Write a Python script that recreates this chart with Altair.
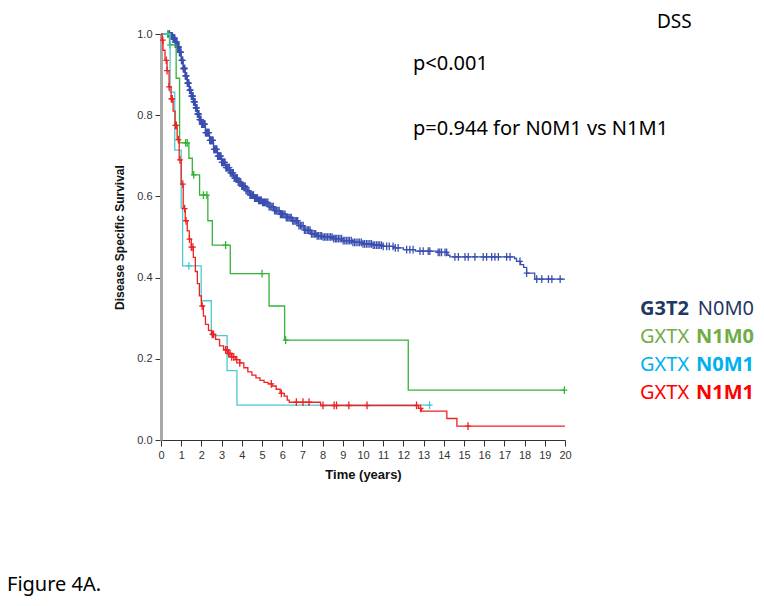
import altair as alt
import pandas as pd

# ---------------- data ----------------
groups = ["G3T2 N0M0", "GXTX N1M0", "GXTX N0M1", "GXTX N1M1"]
line_colors = ["#3A4FB0", "#35B335", "#4CC8D4", "#EE2222"]

# Kaplan-Meier step points (time in years, survival)
blue_t = [0, 0.45, 0.6, 0.7, 0.8, 0.9, 1.0, 1.1, 1.2, 1.3, 1.4, 1.5, 1.6, 1.7, 1.8, 1.9,
          2.0, 2.2, 2.4, 2.6, 2.8, 3.0, 3.2, 3.4, 3.6, 3.8, 4.0, 4.2, 4.4, 4.6, 4.8,
          5.0, 5.3, 5.6, 5.9, 6.2, 6.5, 6.8, 7.1, 7.4, 7.7, 8.0, 8.5, 9.0, 9.5, 10.0,
          10.5, 11.0, 11.5, 12.0, 12.6, 13.7, 14.2, 14.3, 17.5, 17.6, 17.8, 17.95,
          18.1, 18.5, 20]
blue_s = [1.0, 0.995, 0.99, 0.98, 0.968, 0.955, 0.935, 0.915, 0.897, 0.879, 0.862,
          0.847, 0.833, 0.818, 0.803, 0.789, 0.778, 0.757, 0.738, 0.716, 0.699,
          0.684, 0.671, 0.658, 0.645, 0.635, 0.625, 0.614, 0.603, 0.596, 0.59,
          0.585, 0.575, 0.565, 0.556, 0.548, 0.54, 0.528, 0.517, 0.508, 0.503,
          0.5, 0.496, 0.491, 0.487, 0.483, 0.48, 0.477, 0.473, 0.469, 0.465,
          0.462, 0.455, 0.451, 0.447, 0.44, 0.432, 0.425, 0.411, 0.396, 0.396]

green_t = [0, 0.42, 0.75, 0.92, 1.38, 1.55, 1.91, 2.32, 2.54, 3.43, 5.35, 6.12, 12.24, 20]
green_s = [1.0, 0.973, 0.891, 0.732, 0.694, 0.653, 0.603, 0.54, 0.48, 0.41, 0.33,
           0.246, 0.123, 0.123]

cyan_t = [0, 0.45, 0.68, 1.0, 1.07, 1.99, 2.49, 3.27, 3.76, 13.3]
cyan_s = [1.0, 0.857, 0.714, 0.571, 0.429, 0.343, 0.257, 0.171, 0.086, 0.086]

red_t = [0, 0.05, 0.1, 0.2, 0.3, 0.4, 0.5, 0.6, 0.7, 0.8, 0.9, 1.0, 1.1, 1.2, 1.3,
         1.4, 1.5, 1.6, 1.7, 1.8, 1.9, 2.0, 2.1, 2.2, 2.35, 2.5, 2.7, 2.9, 3.1,
         3.3, 3.5, 3.7, 3.9, 4.1, 4.3, 4.5, 4.7, 4.9, 5.1, 5.3, 5.5, 5.7, 5.9,
         6.1, 6.25, 6.35, 7.9, 12.75, 12.9, 14.15, 14.65, 20]
red_s = [1.0, 0.985, 0.96, 0.935, 0.91, 0.87, 0.84, 0.81, 0.775, 0.74, 0.69, 0.63,
         0.57, 0.54, 0.515, 0.495, 0.475, 0.45, 0.415, 0.385, 0.355, 0.33, 0.305,
         0.285, 0.27, 0.26, 0.248, 0.232, 0.222, 0.213, 0.205, 0.198, 0.19, 0.178,
         0.168, 0.16, 0.153, 0.147, 0.142, 0.138, 0.133, 0.125, 0.115, 0.108,
         0.098, 0.093, 0.085, 0.078, 0.071, 0.053, 0.034, 0.034]

# censoring times
blue_cens = [0.35, 0.42, 0.48, 0.53, 0.57, 0.62, 0.66, 0.7, 0.74, 0.79, 0.83, 0.87,
             0.91, 0.95, 0.99, 1.03, 1.08, 1.12, 1.16, 1.2, 1.25, 1.3, 1.34, 1.38,
             1.43, 1.47, 1.52, 1.57, 1.61, 1.66, 1.71, 1.76, 1.8, 1.85, 1.9, 1.96,
             2.01, 2.07, 2.12, 2.18, 2.23, 2.29, 2.35, 2.41, 2.46, 2.52, 2.58, 2.64,
             2.71, 2.77, 2.84, 2.9, 2.97, 3.04, 3.1, 3.17, 3.25, 3.32, 3.39, 3.47,
             3.55, 3.62, 3.7, 3.78, 3.87, 3.95, 4.04, 4.12, 4.21, 4.3, 4.4, 4.49,
             4.58, 4.68, 4.78, 4.88, 4.97, 5.08, 5.18, 5.29, 5.4, 5.5, 5.62, 5.73,
             5.85, 5.97, 6.08, 6.2, 6.33, 6.45, 6.58, 6.7, 6.83, 6.97, 7.1, 7.24,
             7.38, 7.52, 7.66, 7.8, 7.95, 8.1, 8.24, 8.4, 8.55, 8.7, 8.86, 9.02,
             9.18, 9.33, 9.5, 9.66, 9.83, 10.0, 10.17, 10.34, 10.5, 10.67, 10.83,
             11.0, 11.17, 11.3, 11.49, 11.6, 11.74, 12.16, 12.32, 12.48, 12.82,
             12.98, 13.23, 13.31, 13.72, 13.8, 13.89, 14.06, 14.14, 14.55, 14.72,
             15.05, 15.21, 15.54, 15.95, 16.12, 16.37, 16.53, 16.7, 17.11, 17.28,
             17.77, 18.1, 18.6, 18.85, 19.18, 19.35, 19.76,
             0.45, 0.51, 0.55, 0.6, 0.64, 0.68, 0.72, 0.77, 0.81, 0.85, 0.89, 0.93,
             0.97, 1.01, 1.05, 1.1, 1.14, 1.18, 1.22, 1.27, 1.32, 1.36, 1.41, 1.45,
             1.5, 1.54, 1.59, 1.64, 1.69, 1.73, 1.78, 1.83, 1.88, 1.93, 1.98, 2.04,
             2.1, 2.15, 2.2, 2.26, 2.32, 2.38, 2.44, 2.49, 2.55, 2.61, 2.68, 2.74,
             2.8, 2.87, 2.94, 3.0, 3.07, 3.14, 3.21, 3.28, 3.36, 3.43, 3.51, 3.58,
             3.66, 3.74, 3.82, 3.91, 4.0, 4.08, 4.17, 4.26, 4.35, 4.44, 4.54, 4.63,
             4.73, 4.83, 4.93, 5.03, 5.13, 5.24, 5.35, 5.45, 5.56, 5.68, 5.79, 5.91,
             6.02, 6.14, 6.27, 6.39, 6.52, 6.64, 6.77, 6.9, 7.04, 7.17, 7.31, 7.45,
             7.59, 7.73, 7.88, 8.02, 8.17, 8.32, 8.47, 8.63, 8.78, 8.94, 9.1, 9.26,
             9.42, 9.58, 9.75, 9.92, 10.08, 10.25, 10.42, 10.58, 10.75, 10.92]
green_cens = [0.34, 0.45, 1.22, 1.3, 1.62, 2.1, 2.27, 3.2, 5.0, 6.17, 19.97]
cyan_cens = [1.38, 13.3]
red_cens = [0.09, 0.26, 0.3, 0.4, 0.51, 0.56, 0.71, 0.76, 0.86, 0.94, 1.08, 1.17,
            1.24, 1.41, 1.5, 1.58, 2.04, 2.54, 2.6, 3.2, 3.28, 3.35, 3.42, 3.5, 3.6,
            3.75, 3.9, 5.46, 5.96, 6.7, 7.03, 7.33, 8.02, 8.57, 8.69, 9.3, 10.2,
            12.65, 12.85, 15.2]

x_ticks = list(range(0, 21))
y_ticks = [0.0, 0.2, 0.4, 0.6, 0.8, 1.0]

legend_first = ["G3T2", "GXTX", "GXTX", "GXTX"]
legend_second = ["N0M0", "N1M0", "N0M1", "N1M1"]
legend_first_bold = [True, False, False, False]
legend_colors = ["#1F3864", "#70AD47", "#00B0F0", "#FF0000"]

# ---------------- build tables ----------------
curves = [(blue_t, blue_s, blue_cens), (green_t, green_s, green_cens),
          (cyan_t, cyan_s, cyan_cens), (red_t, red_s, red_cens)]
line_rows, cens_rows = [], []
for g, (ts, ss, cs) in zip(groups, curves):
    cdf = pd.DataFrame({"time": ts, "surv": ss}).sort_values("time")
    for t, s in zip(ts, ss):
        line_rows.append({"group": g, "time": t, "surv": s})
    look = pd.merge_asof(pd.DataFrame({"time": sorted(cs)}), cdf, on="time")
    for t, s in zip(look["time"], look["surv"]):
        cens_rows.append({"group": g, "time": t, "surv": s})
lines_df = pd.DataFrame(line_rows)
cens_df = pd.DataFrame(cens_rows)

xs = alt.Scale(domain=[0, 20], nice=False)
ys = alt.Scale(domain=[0, 1], nice=False)
color = alt.Color("group:N", scale=alt.Scale(domain=groups, range=line_colors), legend=None)

xaxis = alt.Axis(values=x_ticks, title="Time (years)", grid=False, tickSize=6,
                 labelFontSize=11, labelColor="#333333", labelFont="Liberation Sans",
                 titleFont="Liberation Sans", titleFontSize=13, titleFontWeight="bold",
                 titleColor="#111111", domainColor="#333333", tickColor="#333333",
                 labelPadding=3, titlePadding=8, labelFlush=False, labelOverlap=False,
                 labelBound=False)
yaxis = alt.Axis(values=y_ticks, format=".1f", title="Disease Specific Survival",
                 grid=False, tickSize=6, labelFontSize=11, labelColor="#333333",
                 labelFont="Liberation Sans", titleFont="Liberation Sans",
                 titleFontSize=12, titleFontWeight="bold", titleColor="#111111",
                 domainColor="#A8A8A8", domainWidth=3, tickColor="#333333",
                 labelPadding=3, titlePadding=10, labelFlush=False, labelOverlap=False)

layers = []
for g in groups:
    sub = lines_df[lines_df["group"] == g]
    layers.append(
        alt.Chart(sub).mark_line(interpolate="step-after", strokeWidth=1.3).encode(
            x=alt.X("time:Q", scale=xs, axis=xaxis),
            y=alt.Y("surv:Q", scale=ys, axis=yaxis),
            color=color,
        )
    )
    subc = cens_df[cens_df["group"] == g]
    layers.append(
        alt.Chart(subc).mark_point(shape="M-0.75,0L0.75,0M0,-1L0,1", size=60,
                                   filled=False, strokeWidth=1.3, opacity=1).encode(
            x=alt.X("time:Q", scale=xs, axis=xaxis),
            y=alt.Y("surv:Q", scale=ys, axis=yaxis),
            color=color,
        )
    )


def label(text, x, y, size=20, weight="normal", color="#000000", align="left"):
    return alt.Chart(pd.DataFrame({"t": [text]})).mark_text(
        font="Noto Sans", fontSize=size, fontWeight=weight, color=color,
        align=align, baseline="alphabetic").encode(
        text="t:N", x=alt.value(x), y=alt.value(y))


layers.append(label("DSS", 496, -6, size=19))
layers.append(label("p<0.001", 252, 36))
layers.append(label("p=0.944 for N0M1 vs N1M1", 252, 101))
layers.append(label("Figure 4A.", -154, 557))
for i in range(4):
    yb = 281 + i * 28.1
    layers.append(label(legend_first[i], 479, yb,
                        weight="bold" if legend_first_bold[i] else "normal",
                        color=legend_colors[i]))
    layers.append(label(legend_second[i], 593, yb,
                        weight="normal" if legend_first_bold[i] else "bold",
                        color=legend_colors[i], align="right"))

chart = alt.layer(*layers).properties(
    width=404, height=406,
    autosize=alt.AutoSizeParams(type="none"),
    padding={"left": 153, "top": 26, "right": 190, "bottom": 156},
    background="#ffffff",
).configure_view(stroke=None).configure_axis(labelOverlap=False)

chart.save("out.html", embed_options={"renderer": "svg", "actions": False})
